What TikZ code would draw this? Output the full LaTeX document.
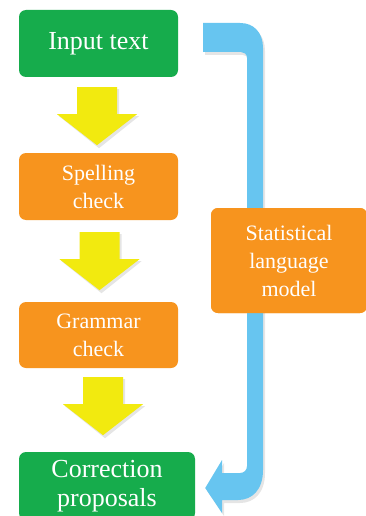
\documentclass[tikz,border=0pt]{standalone}
\usepackage{fontspec}
\setmainfont{Liberation Serif}
\usetikzlibrary{calc}
\definecolor{boxgreen}{RGB}{22,172,76}
\definecolor{boxorange}{RGB}{247,148,30}
\definecolor{arryellow}{RGB}{242,234,15}
\definecolor{arrblue}{RGB}{103,197,240}
\tikzset{
  box/.style={rectangle, rounded corners=7pt, inner sep=0pt, text=white, align=center},
  greenbox/.style={box, fill=boxgreen, font=\fontsize{26}{29.5}\selectfont},
  orangebox/.style={box, fill=boxorange, font=\fontsize{22}{28}\selectfont},
  ashadow/.style={fill=black, opacity=0.10},
  pics/dnarrow/.style={code={
    \fill[ashadow] (-18,2) -- (22,2) -- (22,29) -- (42,29) -- (2,61) -- (-38,29) -- (-18,29) -- cycle;
    \fill[arryellow] (-20,0) -- (20,0) -- (20,27) -- (40,27) -- (0,58) -- (-40,27) -- (-20,27) -- cycle;
  }}
}
\begin{document}
\begin{tikzpicture}[x=1pt,y=-1pt]
\useasboundingbox (0,0) rectangle (365,516);
\fill[white] (0,0) rectangle (365,516);

\node[greenbox, minimum width=159pt, minimum height=67pt] (in) at (98.5,43.5) {Input text};
\node[orangebox, minimum width=159pt, minimum height=67pt] (sp) at (98.5,186.5) {Spelling\\check};
\node[orangebox, minimum width=159pt, minimum height=66pt] (gr) at (98.5,335) {Grammar\\check};
\node[greenbox, minimum width=176pt, minimum height=68pt] (co) at (107,486) {Correction\\proposals};
\node[orangebox, minimum width=156pt, minimum height=105pt] (sl) at (289,260.5) {Statistical\\language\\model};

% yellow arrows
\pic at ($(in.south)+(-1.5,10)$) {dnarrow};
\pic at ($(sp.south)+(1,12)$) {dnarrow};
\pic at ($(gr.south)+(4.5,9)$) {dnarrow};

% blue arrow from input to correction
\coordinate (bs) at ($(in.east)+(25,-20.5)$);
\coordinate (bt) at ($(co.east)+(10,2)$);
\begin{scope}[on background layer/.try]
\fill[ashadow] ($(bs)+(2,3)$) -- ++(37,0) .. controls ++(14,0) and (265,36) .. (265,51) -- (265,473)
  .. controls (265,493) and (254,503) .. (240,503) -- (224,503) -- (224,516) -- ($(bt)+(2,3)$)
  -- (224,463) -- (224,476) -- (242,476) .. controls (246,476) and (249,473) .. (249,469)
  -- (249,61) .. controls (249,57) and (246,55) .. (243,55) -- ($(bs)+(2,32)$) -- cycle;
\end{scope}
\fill[arrblue] (bs) -- ++(37,0) .. controls ++(14,0) and (263,33) .. (263,48) -- (263,470)
  .. controls (263,490) and (252,500) .. (238,500) -- (222,500) -- (222,513) -- (bt)
  -- (222,460) -- (222,473) -- (240,473) .. controls (244,473) and (247,470) .. (247,466)
  -- (247,58) .. controls (247,54) and (244,52) .. (241,52) -- ($(bs)+(0,29)$) -- cycle;

% redraw node in front of the blue line
\node[orangebox, minimum width=156pt, minimum height=105pt] at (sl) {Statistical\\language\\model};
\end{tikzpicture}
\end{document}
